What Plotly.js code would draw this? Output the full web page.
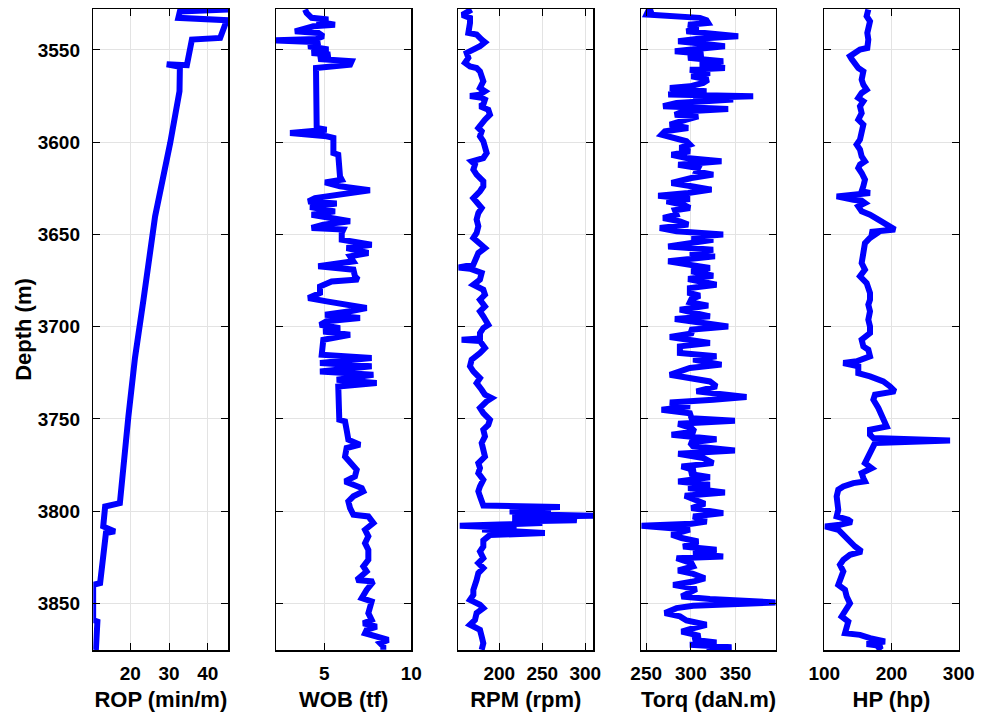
<!DOCTYPE html>
<html><head><meta charset="utf-8">
<script src="https://cdn.plot.ly/plotly-3.0.1.min.js"></script>
<style>html,body{margin:0;padding:0;background:#fff}#chart{width:991px;height:718px}</style>
</head><body><div id="chart"></div>
<script>
// ---------- DATA ----------
const ropDepth = [3528.1,3529.1,3532.6,3533.9,3543.5,3544.4,3558.3,3557.8,3559.2,3572.4,3600.4,3640.2,3685.4,3717.0,3748.7,3795.7,3797.5,3808.3,3811.0,3811.9,3839.0,3840.0,3859.0,3859.9,3875.3];
const ropValue = [45.3,32.8,32.4,44.9,43.2,35.9,34.6,29.4,32.8,32.7,30.3,26.4,23.4,21.2,19.5,17.3,13.5,13.0,16.0,13.7,12.2,10.4,10.4,11.5,11.1];

const wobDepth = [3528.1,3529.9,3532.6,3533.5,3534.5,3536.3,3537.2,3539.9,3540.8,3542.6,3544.0,3544.8,3545.8,3548.0,3549.8,3551.6,3552.5,3554.9,3556.1,3558.0,3559.8,3592.3,3593.2,3595.0,3596.8,3597.7,3605.9,3606.8,3618.5,3620.3,3621.8,3623.9,3626.1,3627.5,3628.5,3630.3,3632.1,3633.3,3635.1,3637.5,3639.3,3641.1,3642.9,3644.7,3646.5,3647.4,3649.2,3652.9,3655.6,3657.4,3660.1,3661.9,3664.6,3667.3,3669.1,3672.7,3674.5,3675.5,3678.2,3681.8,3684.5,3686.3,3688.1,3689.9,3691.7,3693.5,3695.3,3697.1,3699.0,3700.8,3702.6,3704.4,3707.1,3715.2,3717.0,3719.7,3721.5,3724.3,3726.1,3728.8,3730.6,3732.4,3750.5,3751.4,3755.9,3761.3,3764.0,3765.8,3770.4,3774.0,3777.6,3781.2,3783.9,3785.7,3787.5,3789.3,3792.0,3794.7,3798.4,3802.0,3802.9,3806.5,3810.1,3813.7,3817.4,3821.0,3826.4,3830.0,3832.7,3837.3,3838.2,3842.7,3847.2,3849.0,3855.3,3859.0,3860.8,3862.6,3864.4,3866.2,3868.0,3869.8,3871.6,3873.4,3875.2];
const wobValue = [3.89,3.98,4.27,5.23,4.56,5.61,4.37,3.31,4.66,4.94,4.56,2.16,4.75,4.08,5.23,4.27,5.33,4.66,6.57,6.48,4.52,4.56,5.13,3.03,5.13,5.52,5.52,5.80,5.90,6.00,5.04,5.90,7.62,6.48,5.90,4.46,4.08,5.71,4.18,5.61,4.27,5.61,6.48,4.94,4.27,6.09,6.00,6.00,7.72,6.28,7.53,6.48,6.67,4.65,6.67,6.76,6.95,5.42,4.75,4.75,4.08,5.13,6.28,7.43,6.48,5.04,7.05,5.13,4.75,5.90,4.94,6.48,4.94,4.85,7.72,4.75,7.72,4.75,7.82,5.71,8.01,5.80,5.86,6.19,6.28,6.38,7.05,6.28,6.19,6.48,6.86,6.76,6.19,6.67,7.15,7.24,6.67,6.38,6.48,6.67,7.53,7.82,7.34,7.53,7.34,7.53,7.53,7.24,7.43,6.86,7.82,7.43,7.15,7.72,7.53,7.72,7.24,8.01,7.43,7.34,8.20,8.68,8.20,8.39,8.39];

const rpmDepth = [3528.1,3531.0,3532.6,3535.4,3540.8,3541.7,3544.4,3545.8,3548.0,3549.8,3551.6,3554.3,3557.0,3558.9,3559.8,3561.6,3564.3,3567.0,3570.6,3572.4,3574.2,3575.0,3576.0,3576.9,3579.6,3580.5,3582.4,3585.1,3587.8,3590.5,3592.3,3594.1,3596.8,3599.5,3602.2,3605.9,3608.6,3610.4,3612.2,3614.9,3617.6,3621.2,3623.9,3626.6,3630.3,3633.0,3635.7,3638.4,3641.9,3645.6,3649.2,3651.9,3655.6,3657.4,3660.1,3663.7,3666.4,3667.9,3668.6,3670.9,3674.5,3677.3,3680.0,3682.7,3685.4,3689.0,3691.7,3694.4,3697.1,3699.0,3700.8,3703.5,3706.4,3707.1,3707.8,3711.6,3714.3,3717.9,3721.5,3724.3,3727.9,3730.6,3734.2,3736.9,3738.7,3740.5,3744.1,3746.9,3750.5,3753.2,3755.9,3759.5,3763.1,3766.7,3770.4,3774.0,3776.7,3779.4,3783.0,3786.6,3789.3,3792.0,3794.7,3797.0,3797.8,3798.6,3799.5,3800.2,3801.0,3801.6,3802.5,3803.2,3804.0,3805.0,3805.6,3806.5,3807.3,3808.0,3808.6,3809.2,3810.0,3811.2,3811.9,3813.0,3814.6,3815.9,3819.2,3821.9,3825.5,3828.2,3830.9,3833.6,3837.3,3842.7,3845.4,3848.1,3850.8,3852.6,3855.3,3859.0,3861.6,3864.4,3868.0,3871.6,3875.2];
const rpmValue = [167.8,157.0,165.9,165.9,164.0,173.6,179.5,183.3,177.5,167.8,162.0,164.0,160.1,165.9,173.6,177.5,179.5,181.4,177.5,183.3,177.0,166.0,179.5,183.3,181.4,177.5,187.2,189.1,183.3,177.5,175.6,179.5,177.5,181.4,183.3,185.3,181.4,167.8,171.7,169.8,173.6,181.4,181.4,177.5,169.8,175.6,179.5,175.6,173.6,175.6,173.6,169.8,177.5,183.3,175.6,171.7,169.8,152.5,165.9,179.5,177.5,169.8,181.4,183.3,177.5,183.3,177.5,181.4,185.3,187.2,181.4,177.5,177.5,156.2,177.5,183.3,177.5,167.8,165.9,169.8,177.5,173.6,179.5,183.3,191.1,185.3,177.5,181.4,189.1,187.2,181.4,183.3,179.5,181.4,183.3,175.6,177.5,175.6,181.4,177.5,175.6,177.5,179.5,181.4,270.5,215,240,212,260,215,309,215,280,290,215,250,200,154,190,220,180,230,253,189,183.3,181.4,181.4,177.5,181.4,175.6,181.4,175.6,173.6,169.8,169.8,165.9,177.5,181.4,173.6,171.7,165.9,177.5,179.5,181.4,179.5];

const torqDepth = [3528.0,3529.0,3530.8,3531.4,3532.6,3533.9,3535.4,3536.3,3538.1,3539.9,3540.8,3542.6,3544.0,3545.3,3547.1,3548.0,3549.5,3550.7,3552.0,3554.3,3556.1,3558.0,3559.8,3560.7,3562.5,3564.3,3566.1,3567.9,3569.7,3570.6,3571.5,3572.4,3574.2,3575.1,3576.0,3576.9,3578.7,3580.5,3582.0,3583.3,3585.1,3586.0,3587.8,3590.5,3592.3,3594.1,3595.9,3597.7,3599.5,3601.3,3603.1,3605.0,3606.8,3608.6,3610.4,3612.2,3614.0,3615.8,3617.6,3619.4,3622.1,3623.9,3625.7,3627.5,3629.0,3630.8,3632.1,3633.9,3635.7,3636.9,3639.3,3641.1,3642.9,3644.7,3646.5,3648.3,3650.1,3651.4,3652.9,3656.5,3658.3,3660.1,3661.9,3664.6,3666.4,3668.2,3670.0,3672.4,3674.2,3677.3,3679.1,3681.8,3683.2,3685.0,3686.8,3688.6,3690.8,3692.6,3694.4,3695.9,3698.0,3699.9,3701.7,3703.5,3705.6,3707.4,3708.9,3710.7,3714.3,3716.1,3717.9,3720.6,3722.4,3726.1,3727.9,3729.7,3732.4,3735.1,3736.9,3738.2,3739.6,3741.1,3743.2,3745.0,3746.9,3749.6,3751.0,3752.7,3755.0,3756.8,3758.6,3761.0,3762.8,3764.9,3767.1,3768.9,3771.2,3774.0,3775.8,3777.9,3779.8,3781.6,3783.9,3785.7,3787.5,3789.9,3791.7,3793.5,3796.0,3798.4,3801.1,3802.9,3805.6,3806.9,3808.0,3810.1,3812.8,3814.6,3816.5,3819.2,3821.0,3823.1,3824.6,3825.5,3828.2,3830.0,3832.2,3834.0,3836.4,3838.2,3840.0,3842.3,3844.1,3846.3,3847.7,3849.5,3851.3,3852.6,3855.3,3857.1,3859.3,3861.6,3864.0,3865.3,3867.6,3869.8,3871.2,3872.5,3873.8,3875.2];
const torqValue = [257.8,252.2,250.4,276.5,310.1,317.5,319.4,297.0,308.2,295.1,310.1,353.0,306.3,285.8,321.3,338.1,306.3,282.1,313.8,297.0,336.2,310.1,338.1,298.9,321.3,300.7,319.4,313.8,298.9,276.5,289.6,317.5,274.6,369.8,302.6,347.4,284.0,269.0,341.8,291.4,282.1,308.2,295.1,276.5,297.0,270.9,267.2,284.0,295.1,298.9,287.7,298.9,278.4,295.1,334.3,285.8,308.2,306.3,325.0,300.7,278.4,300.7,323.1,297.0,263.4,298.9,272.8,291.4,298.9,282.1,284.0,269.0,287.7,297.0,265.3,284.0,336.2,300.7,325.0,274.6,325.0,298.9,326.9,274.6,302.6,321.3,300.7,325.0,297.0,328.7,298.9,298.9,310.1,300.7,298.9,319.4,287.7,302.6,321.3,282.1,310.1,341.8,298.9,302.6,276.5,306.3,321.3,287.7,287.7,328.7,302.6,334.3,298.9,276.5,295.1,321.3,328.7,306.3,339.9,362.3,325.0,276.5,298.9,267.2,298.9,300.7,349.3,285.8,300.7,304.5,278.4,328.7,298.9,302.6,349.3,285.8,313.8,325.0,289.6,304.5,298.9,321.3,285.8,321.3,297.0,338.1,293.3,304.5,315.7,300.7,336.2,302.6,317.5,300.7,244.5,298.9,278.4,289.6,308.2,291.4,328.7,302.6,336.2,284.0,300.7,302.6,285.8,302.6,315.7,302.6,280.2,306.3,297.0,289.6,321.3,395.0,302.6,284.0,270.9,287.7,295.1,317.5,298.9,289.6,310.1,302.6,328.7,298.9,345.5,317.5];

const hpDepth = [3528.1,3531.7,3534.5,3537.2,3540.8,3544.4,3548.9,3549.8,3551.6,3553.4,3554.9,3557.0,3559.8,3561.6,3566.1,3568.8,3571.5,3573.3,3576.0,3577.8,3580.5,3584.2,3587.8,3590.5,3594.1,3598.6,3601.3,3604.0,3607.7,3610.4,3612.2,3614.0,3616.7,3620.3,3623.9,3626.6,3627.5,3628.5,3629.4,3631.2,3631.7,3633.0,3634.8,3637.5,3639.3,3642.0,3644.7,3647.4,3648.7,3650.1,3651.9,3654.7,3660.1,3665.5,3669.1,3672.7,3676.4,3681.8,3685.4,3688.1,3691.7,3696.2,3699.9,3703.5,3707.1,3710.7,3712.5,3716.1,3718.8,3719.7,3721.5,3725.2,3727.0,3729.7,3732.4,3735.1,3736.9,3739.6,3744.1,3747.8,3751.4,3754.1,3755.9,3758.6,3760.4,3761.7,3763.1,3766.7,3770.4,3774.0,3776.7,3779.4,3782.1,3783.9,3784.8,3786.6,3788.4,3792.0,3799.3,3802.9,3804.7,3806.0,3807.4,3808.3,3810.1,3811.9,3813.7,3816.5,3819.2,3821.9,3823.7,3826.4,3829.1,3832.7,3837.3,3840.0,3842.7,3846.3,3850.0,3853.6,3857.1,3859.9,3862.6,3866.2,3867.1,3868.9,3870.7,3872.0,3873.1,3874.3,3875.2];
const hpValue = [165.5,163.0,168.0,165.5,164.0,165.5,164.0,153.1,143.2,138.2,140.7,145.7,150.6,158.1,155.6,158.1,163.0,155.6,150.6,158.1,153.1,155.6,150.6,158.1,155.6,153.1,148.1,153.1,155.6,160.5,153.1,150.6,155.6,160.5,158.1,155.6,168.0,143.2,118.4,143.2,155.6,160.5,150.6,155.6,168.0,180.4,192.8,205.2,168.0,175.4,168.0,160.5,158.1,155.6,160.5,153.1,163.0,168.0,168.0,165.5,168.0,165.5,168.0,168.0,155.6,158.1,165.5,168.0,148.1,128.3,150.6,150.6,168.0,187.8,197.8,205.2,175.4,173.0,180.4,185.4,190.3,192.8,168.0,168.0,173.0,287.1,175.4,170.5,165.5,160.5,170.5,155.6,158.1,160.5,143.2,128.3,120.8,118.4,120.8,118.4,135.7,140.7,123.3,101.0,120.8,125.8,128.3,135.7,145.7,155.6,138.2,128.3,123.3,128.3,123.3,120.8,130.8,133.3,138.2,130.8,125.8,135.7,133.3,130.8,153.1,168.0,190.3,163.0,185.4,180.4,177.9];

const titles = ['ROP (min/m)','WOB (tf)','RPM (rpm)','Torq (daN.m)','HP (hp)'];
const xRanges = [[10.44,45.3],[2.22,10],[152.3,309.3],[244.5,395],[100,300]];
const xTicks = [[10,20,30,40],[0,5,10],[150,200,250,300],[250,300,350,400],[100,200,300]];
const depthTicks = [3550,3600,3650,3700,3750,3800,3850];
const depthRange = [3875.3,3527.8];

// ---------- LAYOUT ----------
const W=991,H=718, mL=93, mR=32, mT=9, mB=68;
const pw = W-mL-mR;
const pxLeft=[93.3,276,458.3,641.3,824.3];
const pxRight=[228.3,411.3,593.3,775.7,958.7];
const font = {family:'Liberation Sans, Arial, sans-serif', weight:'bold', color:'#000'};
const seriesX=[ropValue,wobValue,rpmValue,torqValue,hpValue];
const seriesY=[ropDepth,wobDepth,rpmDepth,torqDepth,hpDepth];

const data=[]; const layout={width:W,height:H,margin:{l:mL,r:mR,t:mT,b:mB},showlegend:false,
  paper_bgcolor:'#fff',plot_bgcolor:'#fff',font:Object.assign({size:18},font)};
for(let i=0;i<5;i++){
  const s=i===0?'':String(i+1);
  data.push({type:'scatter',mode:'lines',x:seriesX[i],y:seriesY[i],xaxis:'x'+s,yaxis:'y'+s,
    line:{color:'#0000ff',width:6},hoverinfo:'skip'});
  layout['xaxis'+s]={domain:[(pxLeft[i]-mL)/pw,Math.min(1,(pxRight[i]-mL)/pw)],anchor:'y'+s,
    range:xRanges[i],tickmode:'array',tickvals:xTicks[i],ticks:'inside',ticklen:7,tickwidth:1,tickcolor:'#000',
    showline:true,linecolor:'#000',linewidth:1.5,mirror:'ticks',showgrid:true,gridcolor:'#e3e3e3',gridwidth:1,
    zeroline:false,tickfont:Object.assign({size:19},font),ticklabelstandoff:6,
    title:{text:titles[i],font:Object.assign({size:22},font),standoff:8}};
  layout['yaxis'+s]={domain:[0,1],anchor:'x'+s,range:depthRange,tickmode:'array',tickvals:depthTicks,
    ticks:'inside',ticklen:7,tickwidth:1,tickcolor:'#000',showline:true,linecolor:'#000',linewidth:1.5,mirror:'ticks',
    showgrid:true,gridcolor:'#e3e3e3',gridwidth:1,zeroline:false,showticklabels:i===0,
    tickfont:Object.assign({size:19},font),ticklabelstandoff:8,
    title:i===0?{text:'Depth (m)',font:Object.assign({size:22},font),standoff:0}:{text:''}};
}
Plotly.newPlot('chart',data,layout,{displayModeBar:false,staticPlot:true});
</script></body></html>
